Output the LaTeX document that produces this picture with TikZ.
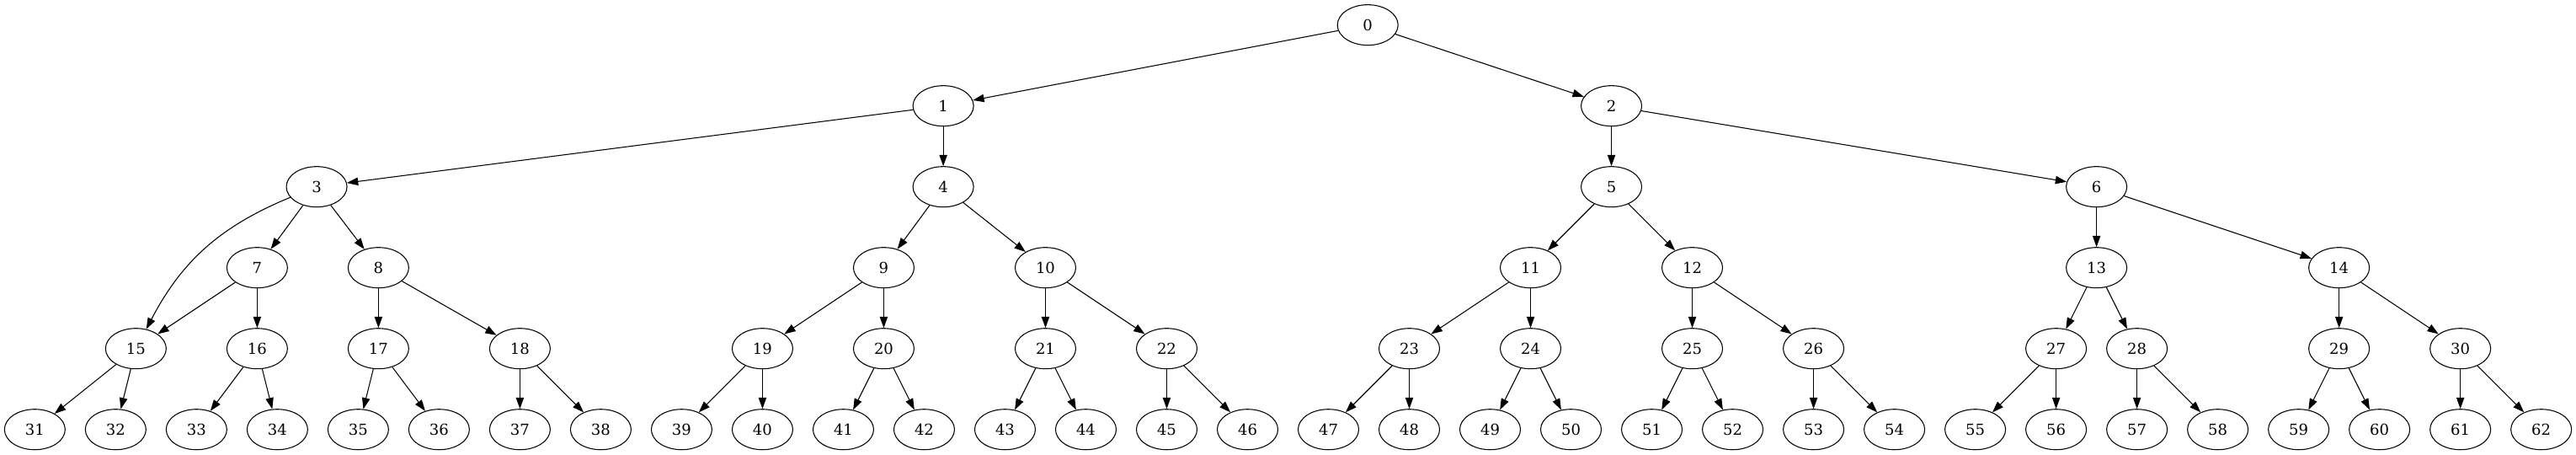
\documentclass[tikz,border=0pt]{standalone}
\usepackage{fontspec}
\setmainfont{DejaVu Serif}
\usetikzlibrary{shapes.geometric,arrows.meta}

\begin{document}
\begin{tikzpicture}[x=1pt,y=1pt,
	vertex/.style={shape=ellipse,draw=black,line width=0.8pt,minimum width=54pt,minimum height=36pt,inner sep=0pt,font=\fontsize{13.5pt}{16pt}\selectfont},
	every edge/.style={draw,line width=0.8pt,-{Triangle[length=10pt,width=7pt]}}]
	
	\useasboundingbox (0,0) rectangle (2294,404.25);
	
	\node[vertex] (n0) at (1218, 382)  {0};
	
	\node[vertex] (n1) at (840, 310)   {1};
	\node[vertex] (n2) at (1435, 310)  {2};
	
	\node[vertex] (n3) at (282, 238)   {3};
	\node[vertex] (n4) at (840, 238)   {4};
	\node[vertex] (n5) at (1435, 238)  {5};
	\node[vertex] (n6) at (1867, 238)  {6};
	
	\node[vertex] (n7) at (229, 166)   {7};
	\node[vertex] (n8) at (337, 166)   {8};
	\node[vertex] (n9) at (787, 166)   {9};
	\node[vertex] (n10) at (931, 166)  {10};
	\node[vertex] (n11) at (1363, 166) {11};
	\node[vertex] (n12) at (1507, 166) {12};
	\node[vertex] (n13) at (1867, 166) {13};
	\node[vertex] (n14) at (2083, 166) {14};
	
	\node[vertex] (n15) at (121, 94)   {15};
	\node[vertex] (n16) at (229, 94)   {16};
	\node[vertex] (n17) at (337, 94)   {17};
	\node[vertex] (n18) at (463, 94)   {18};
	\node[vertex] (n19) at (679, 94)   {19};
	\node[vertex] (n20) at (787, 94)   {20};
	\node[vertex] (n21) at (931, 94)   {21};
	\node[vertex] (n22) at (1039, 94)  {22};
	\node[vertex] (n23) at (1255, 94)  {23};
	\node[vertex] (n24) at (1363, 94)  {24};
	\node[vertex] (n25) at (1507, 94)  {25};
	\node[vertex] (n26) at (1615, 94)  {26};
	\node[vertex] (n27) at (1831, 94)  {27};
	\node[vertex] (n28) at (1903, 94)  {28};
	\node[vertex] (n29) at (2083, 94)  {29};
	\node[vertex] (n30) at (2191, 94)  {30};
	
	\node[vertex] (n31) at (31, 22)    {31};
	\node[vertex] (n32) at (103, 22)   {32};
	\node[vertex] (n33) at (175, 22)   {33};
	\node[vertex] (n34) at (247, 22)   {34};
	\node[vertex] (n35) at (319, 22)   {35};
	\node[vertex] (n36) at (391, 22)   {36};
	\node[vertex] (n37) at (463, 22)   {37};
	\node[vertex] (n38) at (535, 22)   {38};
	\node[vertex] (n39) at (607, 22)   {39};
	\node[vertex] (n40) at (679, 22)   {40};
	\node[vertex] (n41) at (751, 22)   {41};
	\node[vertex] (n42) at (823, 22)   {42};
	\node[vertex] (n43) at (895, 22)   {43};
	\node[vertex] (n44) at (967, 22)   {44};
	\node[vertex] (n45) at (1039, 22)  {45};
	\node[vertex] (n46) at (1111, 22)  {46};
	\node[vertex] (n47) at (1183, 22)  {47};
	\node[vertex] (n48) at (1255, 22)  {48};
	\node[vertex] (n49) at (1327, 22)  {49};
	\node[vertex] (n50) at (1399, 22)  {50};
	\node[vertex] (n51) at (1471, 22)  {51};
	\node[vertex] (n52) at (1543, 22)  {52};
	\node[vertex] (n53) at (1615, 22)  {53};
	\node[vertex] (n54) at (1687, 22)  {54};
	\node[vertex] (n55) at (1759, 22)  {55};
	\node[vertex] (n56) at (1831, 22)  {56};
	\node[vertex] (n57) at (1903, 22)  {57};
	\node[vertex] (n58) at (1975, 22)  {58};
	\node[vertex] (n59) at (2047, 22)  {59};
	\node[vertex] (n60) at (2119, 22)  {60};
	\node[vertex] (n61) at (2191, 22)  {61};
	\node[vertex] (n62) at (2263, 22)  {62};
	
	
	\path (n0) edge (n1);
	\path (n0) edge (n2);
	\path (n1) edge (n3);
	\path (n1) edge (n4);
	\path (n2) edge (n5);
	\path (n2) edge (n6);
	\path (n3) edge [bend right=20] (n15);
	\path (n3) edge (n7);
	\path (n3) edge (n8);
	\path (n4) edge (n9);
	\path (n4) edge (n10);
	\path (n5) edge (n11);
	\path (n5) edge (n12);
	\path (n6) edge (n13);
	\path (n6) edge (n14);
	\path (n7) edge (n15);
	\path (n7) edge (n16);
	\path (n8) edge (n17);
	\path (n8) edge (n18);
	\path (n9) edge (n19);
	\path (n9) edge (n20);
	\path (n10) edge (n21);
	\path (n10) edge (n22);
	\path (n11) edge (n23);
	\path (n11) edge (n24);
	\path (n12) edge (n25);
	\path (n12) edge (n26);
	\path (n13) edge (n27);
	\path (n13) edge (n28);
	\path (n14) edge (n29);
	\path (n14) edge (n30);
	\path (n15) edge (n31);
	\path (n15) edge (n32);
	\path (n16) edge (n33);
	\path (n16) edge (n34);
	\path (n17) edge (n35);
	\path (n17) edge (n36);
	\path (n18) edge (n37);
	\path (n18) edge (n38);
	\path (n19) edge (n39);
	\path (n19) edge (n40);
	\path (n20) edge (n41);
	\path (n20) edge (n42);
	\path (n21) edge (n43);
	\path (n21) edge (n44);
	\path (n22) edge (n45);
	\path (n22) edge (n46);
	\path (n23) edge (n47);
	\path (n23) edge (n48);
	\path (n24) edge (n49);
	\path (n24) edge (n50);
	\path (n25) edge (n51);
	\path (n25) edge (n52);
	\path (n26) edge (n53);
	\path (n26) edge (n54);
	\path (n27) edge (n55);
	\path (n27) edge (n56);
	\path (n28) edge (n57);
	\path (n28) edge (n58);
	\path (n29) edge (n59);
	\path (n29) edge (n60);
	\path (n30) edge (n61);
	\path (n30) edge (n62);

\end{tikzpicture}
\end{document}
